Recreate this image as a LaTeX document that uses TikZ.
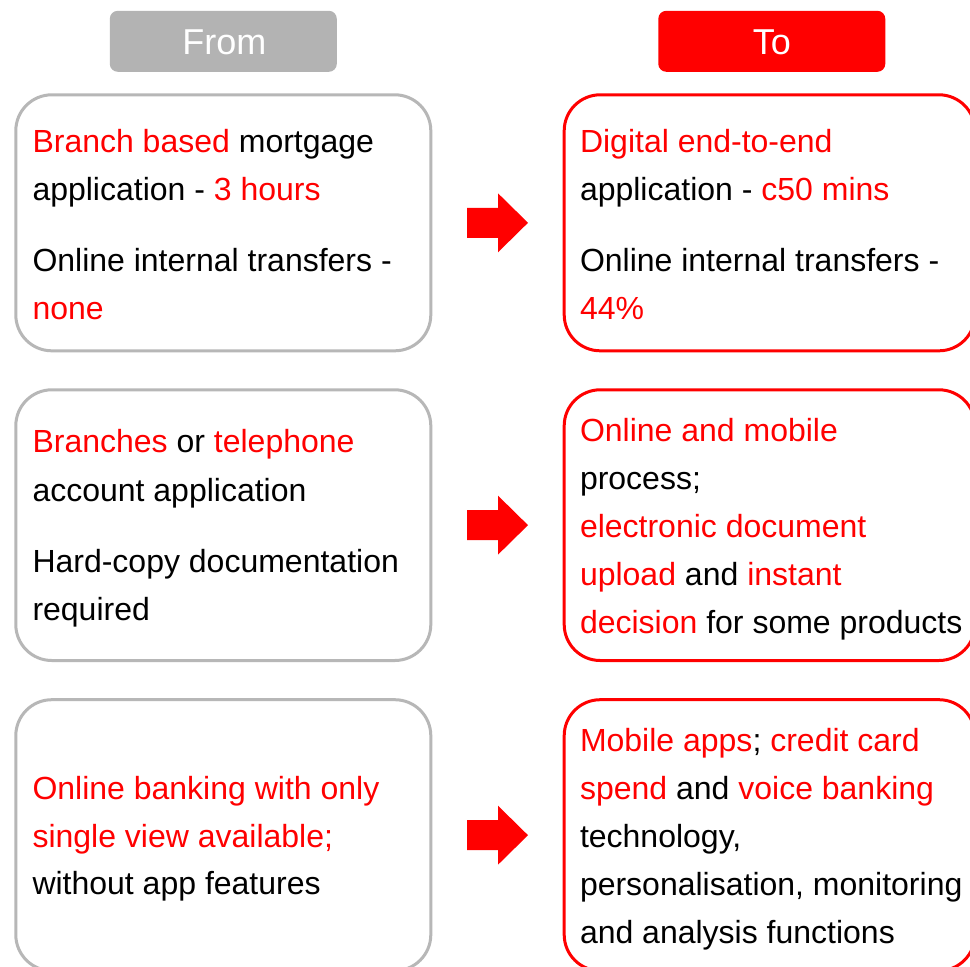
\documentclass[tikz,border=0pt]{standalone}
\usepackage{fontspec}
\setmainfont{Liberation Sans}
\usetikzlibrary{calc}
\definecolor{bankred}{RGB}{255,0,0}
\definecolor{framegray}{RGB}{183,183,183}
\definecolor{headgray}{RGB}{179,179,179}
\newcommand\rd[1]{\textcolor{bankred}{#1}}
\begin{document}
\begin{tikzpicture}[x=1pt,y=-1pt,
  headbox/.style={rectangle, rounded corners=8pt, minimum width=227pt, minimum height=61pt,
    inner sep=0pt, outer sep=0pt},
  headtext/.style={inner sep=0pt, outer sep=0pt, text=white, font=\fontsize{36pt}{40pt}\selectfont},
  panel/.style={rectangle, rounded corners=36pt, line width=3pt, fill=white,
    inner sep=0pt, outer sep=0pt, anchor=north west},
  frompanel/.style={panel, draw=framegray, minimum width=415pt},
  topanel/.style={panel, draw=bankred, minimum width=410.8pt},
  line/.style={anchor=base west, inner sep=0pt, outer sep=0pt,
    font=\fontsize{32pt}{38pt}\selectfont},
  shiftarrow/.style={fill=bankred}
]
\useasboundingbox (0,0) rectangle (970,967);
\clip (0,0) rectangle (970,967);
\fill[white] (0,0) rectangle (970,967);

% column headers
\node[headbox, fill=headgray] (hfrom) at (223.3,41.3) {};
\node[headbox, fill=bankred] (hto) at (771.8,41.3) {};
\node[headtext, anchor=base] (hfromt) at (224.3,54.2) {From};
\node[headtext, anchor=base] (htot) at (771.8,54.2) {To};

% panels
\node[frompanel, minimum height=256pt] (f1) at (15.8,94.8) {};
\node[topanel, minimum height=256pt] (t1) at (564.2,94.8) {};
\node[frompanel, minimum height=270.7pt] (f2) at (15.8,389.8) {};
\node[topanel, minimum height=270.7pt] (t2) at (564.2,389.8) {};
\node[frompanel, minimum height=271pt] (f3) at (15.8,699.7) {};
\node[topanel, minimum height=271pt] (t3) at (564.2,699.7) {};

% block arrows between the panels of each row
\foreach \a/\b in {f1/t1, f2/t2, f3/t3}{
  \fill[shiftarrow] ($(\a.east)!0.5!(\b.west)$) ++(-30.5,-15) -- ++(31,0) -- ++(0,-14.5)
    -- ++(30,29.5) -- ++(-30,29.5) -- ++(0,-14.5) -- ++(-31,0) -- cycle;
}

% row 1
\node[line] (f1a) at (32.5,152) {\rd{Branch based} mortgage};
\node[line] (f1b) at (32.5,200) {application - \rd{3 hours}};
\node[line] (f1c) at (32.5,271) {Online internal transfers -};
\node[line] (f1d) at (32.5,319) {\rd{none}};
\node[line] (t1a) at (580,152) {\rd{Digital end-to-end}};
\node[line] (t1b) at (580,200) {application - \rd{c50 mins}};
\node[line] (t1c) at (580,271) {Online internal transfers -};
\node[line] (t1d) at (580,319) {\rd{44\%}};

% row 2
\node[line] (f2a) at (32.5,452.5) {\rd{Branches} or \rd{telephone}};
\node[line] (f2b) at (32.5,501) {account application};
\node[line] (f2c) at (32.5,572.5) {Hard-copy documentation};
\node[line] (f2d) at (32.5,620.5) {required};
\node[line] (t2a) at (580,441) {\rd{Online and mobile}};
\node[line] (t2b) at (580,489) {process;};
\node[line] (t2c) at (580,537) {\rd{electronic document}};
\node[line] (t2d) at (580,585) {\rd{upload} and \rd{instant}};
\node[line] (t2e) at (580,633) {\rd{decision} for some products};

% row 3
\node[line] (f3a) at (32.5,799) {\rd{Online banking with only}};
\node[line] (f3b) at (32.5,847) {\rd{single view available;}};
\node[line] (f3c) at (32.5,894.5) {without app features};
\node[line] (t3a) at (580,751) {\rd{Mobile apps}; \rd{credit card}};
\node[line] (t3b) at (580,799) {\rd{spend} and \rd{voice banking}};
\node[line] (t3c) at (580,847) {technology,};
\node[line] (t3d) at (580,895) {personalisation, monitoring};
\node[line] (t3e) at (580,943) {and analysis functions};
\end{tikzpicture}
\end{document}
